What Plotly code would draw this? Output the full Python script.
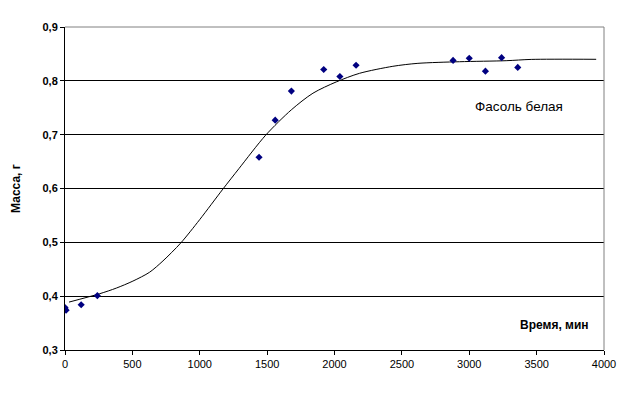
import plotly.graph_objects as go

# Measured data points
time_min = [0, 0, 8, 120, 240, 1440, 1560, 1680, 1920, 2040, 2160, 2880, 3000, 3120, 3240, 3360]
mass_g = [0.379, 0.376, 0.374, 0.384, 0.401, 0.658, 0.727, 0.781, 0.821, 0.808, 0.829, 0.838, 0.842, 0.818, 0.843, 0.825]

# Fitted curve
curve_x = [30, 257, 381, 504, 628, 727, 858, 999, 1172, 1291, 1489, 1679, 1840, 2013,
           2186, 2433, 2619, 2928, 3274, 3460, 3942]
curve_y = [0.389, 0.4045, 0.415, 0.428, 0.4445, 0.4655, 0.4985, 0.542, 0.599, 0.637, 0.699,
           0.746, 0.777, 0.798, 0.814, 0.827, 0.8325, 0.8355, 0.8374, 0.8398, 0.840]

y_ticks = [0.3, 0.4, 0.5, 0.6, 0.7, 0.8, 0.9]
y_tick_labels = ["0,3", "0,4", "0,5", "0,6", "0,7", "0,8", "0,9"]
x_ticks = [0, 500, 1000, 1500, 2000, 2500, 3000, 3500, 4000]

FONT = "Liberation Sans, Arial, sans-serif"

fig = go.Figure()
fig.add_trace(go.Scatter(x=curve_x, y=curve_y, mode="lines",
                         line=dict(color="black", width=1, shape="spline", smoothing=0.8),
                         hoverinfo="skip", showlegend=False))
fig.add_trace(go.Scatter(x=time_min, y=mass_g, mode="markers",
                         marker=dict(symbol="diamond", size=5.5, color="#000080"),
                         hoverinfo="skip", showlegend=False))

# top and right border (grey)
fig.add_shape(type="line", xref="paper", yref="paper", x0=0, x1=1, y0=1, y1=1,
              line=dict(color="#808080", width=1))
fig.add_shape(type="line", xref="paper", yref="paper", x0=1, x1=1, y0=0, y1=1,
              line=dict(color="#808080", width=1))

fig.add_annotation(text="Фасоль белая", xref="paper", yref="paper", x=0.842, y=0.753,
                   xanchor="center", yanchor="middle",
                   showarrow=False, font=dict(family=FONT, size=13.5, color="black"))
fig.add_annotation(text="<b>Время, мин</b>", xref="paper", yref="paper", x=0.9085, y=0.078,
                   xanchor="center", yanchor="middle",
                   showarrow=False, font=dict(family=FONT, size=12, color="black"))
fig.add_annotation(text="<b>Масса, г</b>", xref="paper", yref="paper", x=-0.092, y=0.5,
                   xanchor="center", yanchor="middle", textangle=-90,
                   showarrow=False, font=dict(family=FONT, size=12, color="black"))

fig.update_layout(
    width=642, height=398,
    margin=dict(l=65, r=38, t=27, b=48),
    paper_bgcolor="white", plot_bgcolor="white",
    font=dict(family=FONT, size=11, color="black"),
    xaxis=dict(range=[0, 4000], tickvals=x_ticks, showgrid=False, zeroline=False,
               showline=True, linecolor="black", linewidth=1,
               ticks="outside", ticklen=4, tickcolor="black",
               tickfont=dict(family=FONT, size=11, color="black")),
    yaxis=dict(range=[0.3, 0.9], tickvals=y_ticks, ticktext=["<b>%s</b>" % t for t in y_tick_labels],
               showgrid=True, gridcolor="black", gridwidth=1, zeroline=False,
               showline=True, linecolor="black", linewidth=1,
               ticks="outside", ticklen=4, tickcolor="black",
               tickfont=dict(family=FONT, size=11, color="black")),
)

fig.write_html("out.html", config={"displayModeBar": False},
               post_script="document.body.style.margin='0px';document.body.style.overflow='hidden';")
